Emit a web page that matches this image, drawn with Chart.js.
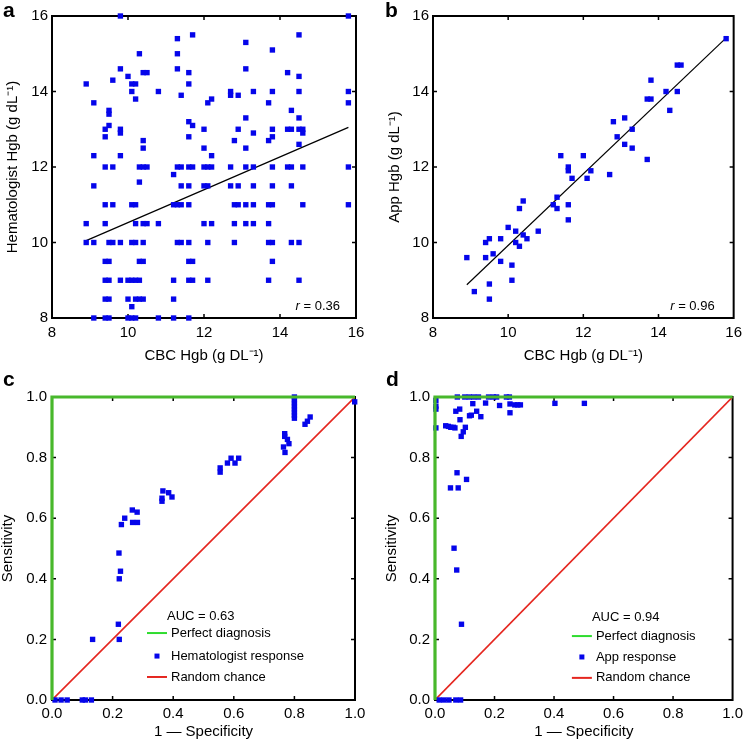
<!DOCTYPE html>
<html>
<head>
<meta charset="utf-8">
<title>Hgb comparison and ROC</title>
<script src="https://cdn.jsdelivr.net/npm/chart.js@4.4.0/dist/chart.umd.min.js"></script>
<style>
  body { margin: 0; background: #fff; font-family: 'Liberation Sans', Arial, sans-serif; }
  #page { position: relative; width: 748px; height: 741px; overflow: hidden; }
  .panel { position: absolute; }
  .tag { position: absolute; font: bold 21px 'Liberation Sans', Arial, sans-serif; line-height: 1; color: #000; }
</style>
</head>
<body>
<div id="page">
  <div class="panel" style="left:0;top:0;width:374px;height:370px"><canvas id="chartA"></canvas></div>
  <div class="panel" style="left:382px;top:0;width:366px;height:370px"><canvas id="chartB"></canvas></div>
  <div class="panel" style="left:0;top:370px;width:374px;height:371px"><canvas id="chartC"></canvas></div>
  <div class="panel" style="left:384px;top:370px;width:364px;height:371px"><canvas id="chartD"></canvas></div>
  <div class="tag" style="left:3px;top:-1px">a</div>
  <div class="tag" style="left:385px;top:-1px">b</div>
  <div class="tag" style="left:3px;top:368px">c</div>
  <div class="tag" style="left:386px;top:368px">d</div>
</div>
<script>
// panel a: CBC Hgb vs hematologist estimate (one line per estimate row)
const hemaCbc = [
  9.8, 15.8,
  11.7, 14.5,
  11.3,
  13.1,
  13.8,
  10.3, 11.3,
  9.8, 11.3, 13.1,
  10.4, 10.5, 11.6, 14.2,
  10.0, 14.5,
  9.6,
  8.9, 10.1, 10.2, 11.6,
  10.1, 10.8, 12.7, 13.3, 13.8, 14.5, 15.8,
  11.4, 12.7, 12.9,
  10.2, 12.2,
  9.1, 12.1, 13.7, 15.8,
  9.5, 14.3,
  9.5,
  13.1, 14.5,
  11.6,
  9.5, 11.7,
  9.4, 9.8, 12.0, 12.9, 13.8, 14.2, 14.3, 14.5, 14.6,
  9.8, 13.3, 14.6,
  9.4, 11.6, 13.8,
  10.4, 12.8, 13.7,
  14.5,
  10.4, 12.0, 13.1,
  9.1, 9.8, 12.2,
  9.4, 9.6, 10.3, 10.4, 10.5, 11.3, 11.4, 11.6, 11.7, 12.0, 12.1, 12.2, 12.7, 13.1, 13.3, 13.8, 14.2, 14.3, 14.6, 15.8,
  11.2,
  10.3,
  9.1, 11.4, 11.6, 12.0, 12.1, 12.7, 12.9, 13.3, 13.8, 14.3,
  9.4, 9.6, 10.1, 10.2, 11.2, 11.3, 11.4, 11.6, 12.8, 12.9, 13.1, 13.3, 13.7, 13.8, 14.6, 15.8,
  8.9, 9.4, 10.2, 10.4, 10.5, 10.8, 12.0, 12.2, 12.8, 13.1, 13.3, 13.7,
  8.9, 9.1, 9.5, 9.6, 9.8, 10.1, 10.2, 10.4, 11.3, 11.4, 11.6, 12.1, 12.8, 13.7, 13.8, 14.3, 14.5,
  9.4, 9.5, 10.3, 10.4, 11.6, 11.7, 13.8,
  9.4, 9.5, 9.8, 10.0, 10.1, 10.2, 10.3, 11.2, 11.6, 11.7, 12.1, 13.7, 14.5,
  9.4, 9.5, 10.0, 10.2, 10.3, 10.4, 11.2,
  10.1,
  9.1, 9.4, 9.5, 10.0, 10.1, 10.2, 10.8, 11.2, 11.6
];
const hemaHgb = [
  16, 16,
  15.5, 15.5,
  15.4,
  15.3,
  15.1,
  15, 15,
  14.6, 14.6, 14.6,
  14.5, 14.5, 14.5, 14.5,
  14.4, 14.4,
  14.3,
  14.2, 14.2, 14.2, 14.2,
  14, 14, 14, 14, 14, 14, 14,
  13.9, 13.9, 13.9,
  13.8, 13.8,
  13.7, 13.7, 13.7, 13.7,
  13.5, 13.5,
  13.4,
  13.3, 13.3,
  13.2,
  13.1, 13.1,
  13, 13, 13, 13, 13, 13, 13, 13, 13,
  12.9, 12.9, 12.9,
  12.8, 12.8, 12.8,
  12.7, 12.7, 12.7,
  12.6,
  12.5, 12.5, 12.5,
  12.3, 12.3, 12.3,
  12, 12, 12, 12, 12, 12, 12, 12, 12, 12, 12, 12, 12, 12, 12, 12, 12, 12, 12, 12,
  11.8,
  11.6,
  11.5, 11.5, 11.5, 11.5, 11.5, 11.5, 11.5, 11.5, 11.5, 11.5,
  11, 11, 11, 11, 11, 11, 11, 11, 11, 11, 11, 11, 11, 11, 11, 11,
  10.5, 10.5, 10.5, 10.5, 10.5, 10.5, 10.5, 10.5, 10.5, 10.5, 10.5, 10.5,
  10, 10, 10, 10, 10, 10, 10, 10, 10, 10, 10, 10, 10, 10, 10, 10, 10,
  9.5, 9.5, 9.5, 9.5, 9.5, 9.5, 9.5,
  9, 9, 9, 9, 9, 9, 9, 9, 9, 9, 9, 9, 9,
  8.5, 8.5, 8.5, 8.5, 8.5, 8.5, 8.5,
  8.3,
  8, 8, 8, 8, 8, 8, 8, 8, 8
];
const hemaFitX = [8.9, 15.8];
const hemaFitY = [10.05, 13.05];

// panel b: CBC Hgb vs app estimate
const appCbc = [8.9, 9.1, 9.4, 9.5, 9.4, 9.6, 9.5, 9.5, 9.8, 9.8, 10.0, 10.2, 10.2, 10.3, 10.1, 10.1,
  10.3, 10.4, 10.4, 10.5, 10.8, 11.2, 11.3, 11.3, 11.4, 11.6, 11.6, 11.7, 11.6, 11.6, 12.0, 12.1,
  12.2, 12.7, 12.8, 12.9, 13.1, 13.1, 13.3, 13.3, 13.7, 13.8, 13.8, 13.7, 14.2, 14.3, 14.5, 14.5, 14.6, 15.8];
const appHgb = [9.6, 8.7, 10.0, 10.1, 9.6, 9.7, 8.9, 8.5, 10.1, 9.5, 10.4, 10.3, 10.0, 9.9, 9.4, 9.0,
  10.9, 11.1, 10.2, 10.1, 10.3, 11.0, 11.2, 10.9, 12.3, 12.0, 11.9, 11.7, 11.0, 10.6, 12.3, 11.7,
  11.9, 11.8, 13.2, 12.8, 13.3, 12.6, 13.0, 12.5, 13.8, 13.8, 14.3, 12.2, 14.0, 13.5, 14.0, 14.7, 14.7, 15.4];
const appFitX = [8.9, 15.8];
const appFitY = [8.88, 15.42];

const hgbTicks = [8, 10, 12, 14, 16];

// panel c: hematologist ROC points
const hemaFpr = [0.01, 0.03, 0.05, 0.10, 0.11, 0.13,
  0.134, 0.222, 0.219, 0.222, 0.226, 0.221, 0.229, 0.24, 0.265, 0.281, 0.266, 0.282,
  0.363, 0.366, 0.363, 0.385, 0.396, 0.555, 0.555, 0.579, 0.591, 0.604, 0.616,
  0.764, 0.768, 0.769, 0.777, 0.782, 0.768,
  0.8, 0.8, 0.8, 0.8, 0.8, 0.8, 0.8, 0.8, 0.835, 0.843, 0.852, 0.999];
const hemaTpr = [0, 0, 0, 0, 0, 0,
  0.2, 0.2, 0.25, 0.4, 0.425, 0.485, 0.579, 0.6, 0.627, 0.62, 0.586, 0.586,
  0.656, 0.69, 0.666, 0.684, 0.67, 0.766, 0.752, 0.782, 0.798, 0.782, 0.798,
  0.835, 0.879, 0.817, 0.86, 0.846, 0.87,
  0.93, 0.94, 0.95, 0.96, 0.97, 0.98, 0.99, 1.0, 0.91, 0.92, 0.934, 0.984];

// panel d: app ROC points
const appFpr = [0.003, 0.003, 0.003, 0.003,
  0.075, 0.1, 0.115, 0.13, 0.146, 0.18, 0.196, 0.207, 0.24, 0.25,
  0.036, 0.045, 0.053, 0.067, 0.062, 0.07, 0.083, 0.084, 0.088, 0.095, 0.102, 0.116, 0.122,
  0.127, 0.14, 0.154, 0.17, 0.217, 0.252, 0.252, 0.268, 0.278, 0.287, 0.403, 0.502,
  0.074, 0.106, 0.052, 0.078, 0.064, 0.073, 0.089,
  0.014, 0.03, 0.047, 0.07, 0.086];
const appTpr = [0.989, 0.97, 0.96, 0.898,
  1, 1, 1, 1, 1, 1, 1, 1, 1, 1,
  0.905, 0.903, 0.9, 0.898, 0.9, 0.953, 0.96, 0.925, 0.87, 0.885, 0.9, 0.938, 0.94,
  0.978, 0.953, 0.935, 0.98, 0.972, 0.977, 0.948, 0.974, 0.974, 0.974, 0.979, 0.979,
  0.75, 0.728, 0.7, 0.7, 0.501, 0.429, 0.25,
  0, 0, 0, 0, 0];

const perfectX = [0, 0, 1];
const perfectY = [0, 1, 1];
const chanceX = [0, 1];
const chanceY = [0, 1];
const rocTicks = [0, 0.2, 0.4, 0.6, 0.8, 1.0];

const BLUE = '#0505ea';
const GREEN = '#48b82c';
const GREEN_KEY = '#2edc2e';
const RED = '#e5261f';
const FONT = "'Liberation Sans', Arial, sans-serif";

Chart.defaults.font.family = FONT;
Chart.defaults.color = '#000';

const pts = (xs, ys) => xs.map((x, i) => ({ x: x, y: ys[i] }));

// top/right frame and inward tick marks on all sides
const frameTicks = {
  id: 'frameTicks',
  beforeDatasetsDraw(chart) {
    const { ctx, chartArea: a, scales: { x, y } } = chart;
    const eps = 1e-6;
    ctx.save();
    ctx.strokeStyle = '#000';
    ctx.lineWidth = 2;
    ctx.beginPath();
    ctx.moveTo(a.left - 1, a.top);
    ctx.lineTo(a.right, a.top);
    ctx.lineTo(a.right, a.bottom + 1);
    ctx.stroke();
    ctx.lineWidth = 1.5;
    ctx.beginPath();
    x.ticks.forEach(t => {
      if (t.value <= x.min + eps || t.value >= x.max - eps) return;
      const px = x.getPixelForValue(t.value);
      ctx.moveTo(px, a.top); ctx.lineTo(px, a.top + 4);
      ctx.moveTo(px, a.bottom); ctx.lineTo(px, a.bottom - 4);
    });
    y.ticks.forEach(t => {
      if (t.value <= y.min + eps || t.value >= y.max - eps) return;
      const py = y.getPixelForValue(t.value);
      ctx.moveTo(a.left, py); ctx.lineTo(a.left + 4, py);
      ctx.moveTo(a.right, py); ctx.lineTo(a.right - 4, py);
    });
    ctx.stroke();
    ctx.restore();
  }
};

// "r = 0.xx" note in the lower right corner
const corrNote = {
  id: 'corrNote',
  afterDatasetsDraw(chart, args, o) {
    if (!o || !o.text) return;
    const { ctx, chartArea: a } = chart;
    ctx.save();
    ctx.fillStyle = '#000';
    ctx.textBaseline = 'alphabetic';
    ctx.textAlign = 'right';
    ctx.font = '13px ' + FONT;
    const rest = ' = ' + o.text;
    const xr = a.right - o.right;
    const yb = a.bottom - 8;
    ctx.fillText(rest, xr, yb);
    const w = ctx.measureText(rest).width;
    ctx.font = 'italic 13px ' + FONT;
    ctx.fillText('r', xr - w, yb);
    ctx.restore();
  }
};

// ROC legend with AUC heading, placed inside the plot
const rocLegend = {
  id: 'rocLegend',
  afterDatasetsDraw(chart, args, o) {
    if (!o || !o.title) return;
    const { ctx, chartArea: a } = chart;
    const w = a.right - a.left, h = a.bottom - a.top;
    const sx = a.left + o.x * w;
    const tx = sx + 24;
    ctx.save();
    ctx.font = '13px ' + FONT;
    ctx.fillStyle = '#000';
    ctx.textBaseline = 'middle';
    ctx.textAlign = 'left';
    ctx.fillText(o.title, sx + 20, a.top + o.rows[0] * h);
    let r = 1;
    chart.data.datasets.forEach(ds => {
      if (!ds.label) return;
      const cy = a.top + o.rows[r] * h;
      if (ds.showLine) {
        ctx.strokeStyle = ds.keyColor || ds.borderColor;
        ctx.lineWidth = 2;
        ctx.beginPath();
        ctx.moveTo(sx, cy); ctx.lineTo(sx + 20, cy);
        ctx.stroke();
      } else {
        ctx.fillStyle = ds.backgroundColor;
        ctx.fillRect(sx + 7.5, cy - 2.5, 5, 5);
      }
      ctx.fillStyle = '#000';
      ctx.fillText(ds.label, tx, cy);
      r++;
    });
    ctx.restore();
  }
};

function axis(opts) {
  return {
    type: 'linear',
    min: opts.min,
    max: opts.max,
    afterBuildTicks: s => { s.ticks = opts.ticks.map(v => ({ value: v })); },
    ticks: {
      font: { size: 15 },
      color: '#000',
      padding: opts.pad,
      autoSkip: false,
      maxRotation: 0,
      callback: opts.fmt
    },
    grid: { display: false, drawTicks: false },
    border: { display: true, color: '#000', width: 2 },
    title: {
      display: true,
      text: opts.title,
      font: { size: 15, lineHeight: 1 },
      color: '#000',
      padding: opts.titlePad
    },
    afterFit: s => {
      if (opts.size == null) return;
      if (s.isHorizontal()) s.height = opts.size; else s.width = opts.size;
    }
  };
}

function makeChart(id, cfg) {
  return new Chart(document.getElementById(id), {
    type: 'scatter',
    data: { datasets: cfg.datasets },
    options: {
      responsive: true,
      maintainAspectRatio: false,
      animation: false,
      layout: { padding: cfg.padding },
      scales: { x: cfg.x, y: cfg.y },
      plugins: {
        legend: { display: false },
        tooltip: { enabled: false },
        corrNote: cfg.note || {},
        rocLegend: cfg.legend || {}
      }
    },
    plugins: [frameTicks, corrNote, rocLegend]
  });
}

const squares = (xs, ys, label) => ({
  label: label,
  data: pts(xs, ys),
  pointStyle: 'rect',
  pointRadius: 3.8,
  borderWidth: 0,
  backgroundColor: BLUE,
  borderColor: BLUE,
  clip: false
});
const fitLine = (xs, ys) => ({
  data: pts(xs, ys),
  showLine: true,
  pointRadius: 0,
  borderColor: '#000',
  borderWidth: 1.2
});

const hgbFmt = v => String(v);
const rocFmt = v => Number(v).toFixed(1);

makeChart('chartA', {
  padding: { left: 0, top: 16, right: 18, bottom: 0 },
  datasets: [squares(hemaCbc, hemaHgb), fitLine(hemaFitX, hemaFitY)],
  x: axis({ min: 8, max: 16, ticks: hgbTicks, pad: 6, fmt: hgbFmt, title: 'CBC Hgb (g DL\u207B\u00B9)', titlePad: { top: 0, bottom: 7 }, size: 52 }),
  y: axis({ min: 8, max: 16, ticks: hgbTicks, pad: 4, fmt: hgbFmt, title: 'Hematologist Hgb (g dL\u207B\u00B9)', titlePad: { top: 5, bottom: 0 }, size: 52 }),
  note: { text: '0.36', right: 16 }
});

makeChart('chartB', {
  padding: { left: 0, top: 16, right: 12, bottom: 0 },
  datasets: [squares(appCbc, appHgb), fitLine(appFitX, appFitY)],
  x: axis({ min: 8, max: 16, ticks: hgbTicks, pad: 6, fmt: hgbFmt, title: 'CBC Hgb (g DL\u207B\u00B9)', titlePad: { top: 0, bottom: 7 }, size: 52 }),
  y: axis({ min: 8, max: 16, ticks: hgbTicks, pad: 4, fmt: hgbFmt, title: 'App Hgb (g dL\u207B\u00B9)', titlePad: { top: 5, bottom: 0 }, size: 51 }),
  note: { text: '0.96', right: 19 }
});

const rocSets = (xs, ys, label) => [
  { label: 'Perfect diagnosis', data: pts(perfectX, perfectY), showLine: true, pointRadius: 0, borderColor: GREEN, keyColor: GREEN_KEY, borderWidth: 3.2, clip: false },
  squares(xs, ys, label),
  { label: 'Random chance', data: pts(chanceX, chanceY), showLine: true, pointRadius: 0, borderColor: RED, borderWidth: 1.6 }
];

makeChart('chartC', {
  padding: { left: 0, top: 27, right: 19, bottom: 0 },
  datasets: rocSets(hemaFpr, hemaTpr, 'Hematologist response'),
  x: axis({ min: 0, max: 1, ticks: rocTicks, pad: 5, fmt: rocFmt, title: '1 \u2014 Specificity', titlePad: { top: 0, bottom: 2 }, size: 41 }),
  y: axis({ min: 0, max: 1, ticks: rocTicks, pad: 5, fmt: rocFmt, title: 'Sensitivity', titlePad: { top: 0, bottom: 0 }, size: 52 }),
  legend: { title: 'AUC = 0.63', x: 0.3135, rows: [0.723, 0.779, 0.855, 0.924] }
});

makeChart('chartD', {
  padding: { left: 0, top: 27, right: 11, bottom: 0 },
  datasets: rocSets(appFpr, appTpr, 'App response'),
  x: axis({ min: 0, max: 1, ticks: rocTicks, pad: 5, fmt: rocFmt, title: '1 \u2014 Specificity', titlePad: { top: 0, bottom: 2 }, size: 41 }),
  y: axis({ min: 0, max: 1, ticks: rocTicks, pad: 5, fmt: rocFmt, title: 'Sensitivity', titlePad: { top: 0, bottom: 0 }, size: 51 }),
  legend: { title: 'AUC = 0.94', x: 0.46, rows: [0.729, 0.789, 0.858, 0.927] }
});
</script>
</body>
</html>
